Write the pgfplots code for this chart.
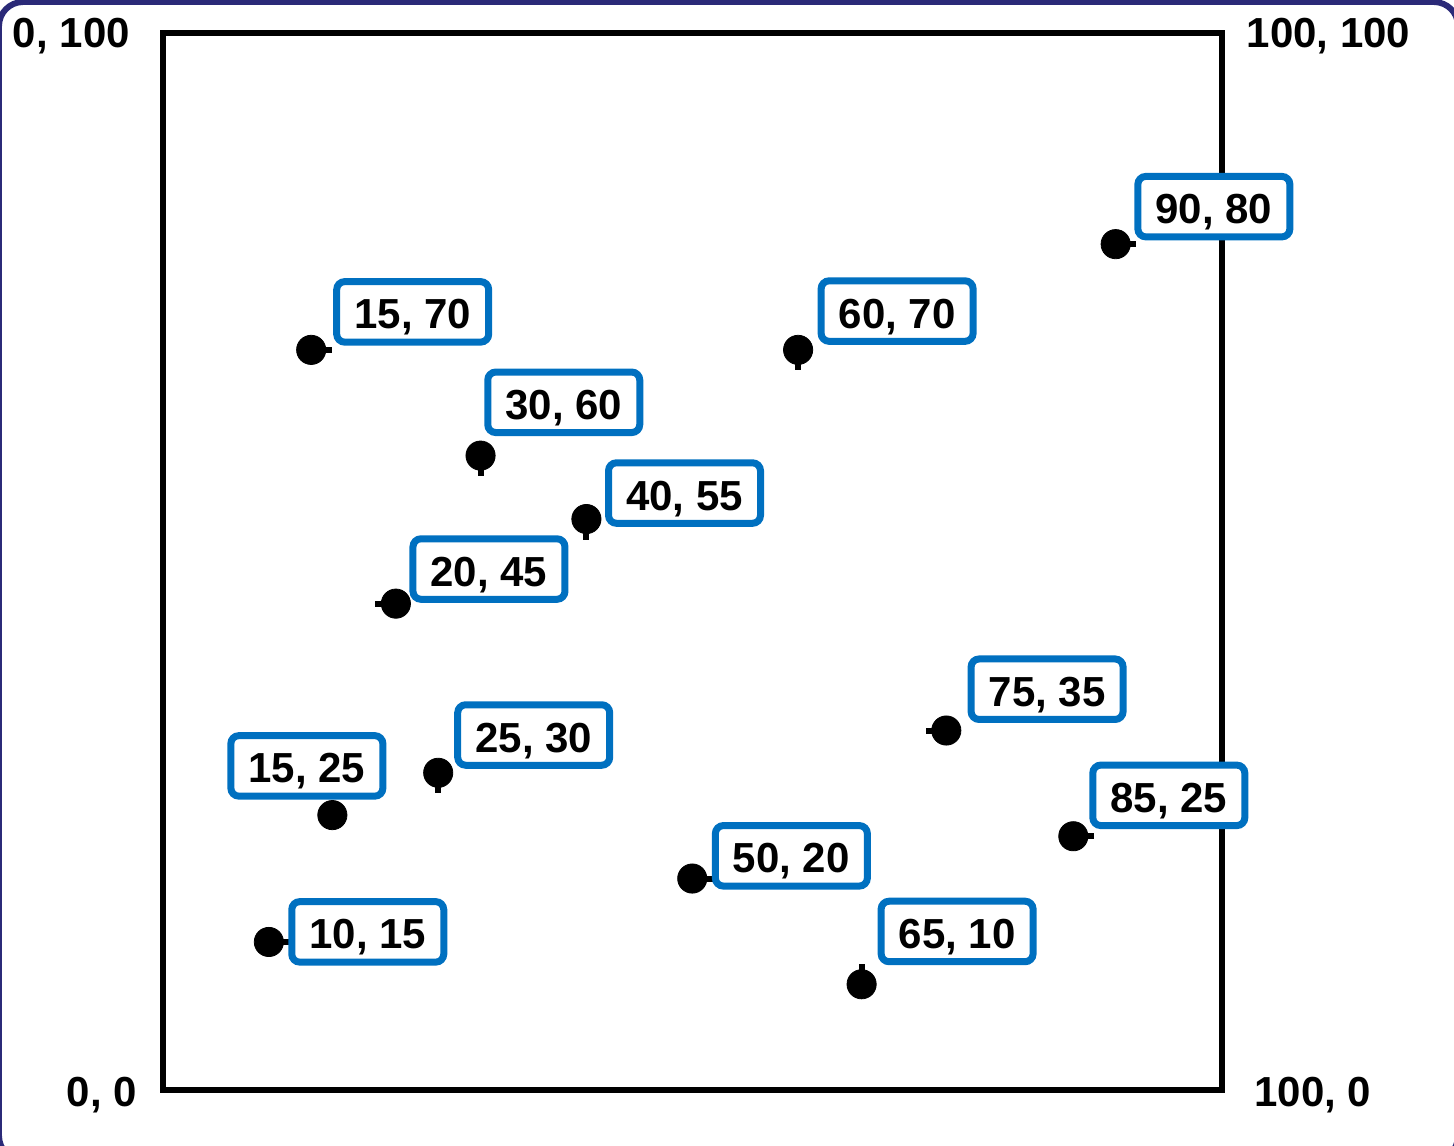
\documentclass[border=0pt]{standalone}
\usepackage{fontspec}
\setmainfont{Liberation Sans}
\usepackage{pgfplots}
\pgfplotsset{compat=1.18}
\usepackage{pgfplotstable}
\pgfkeys{/pgf/number format/assume math mode=true}
\definecolor{boxblue}{RGB}{0,112,192}
\definecolor{framenavy}{RGB}{43,42,120}

\pgfplotstableread{
x y lx ly dx dy exp exm eyp eym
10 14 10 15 49.45 5.05 1.94 0 0 0
16 26 15 25 -12.75 24.6 0 0 0 0
26 30 25 30 47.75 18.9 0 0 0 1.94
14 70 15 70 50.75 19 1.94 0 0 0
30 60 30 60 41.6 26.65 0 0 0 1.94
40 54 40 55 49.05 13 0 0 0 1.94
22 46 20 45 46.55 17.3 0 1.94 0 0
60 70 60 70 49.5 19.4 0 0 0 1.94
90 80 90 80 49.1 18.75 1.94 0 0 0
74 34 75 35 50.4 20.65 0 1.94 0 0
86 24 85 25 47.75 20.45 1.94 0 0 0
50 20 50 20 49.55 11.35 1.94 0 0 0
66 10 65 10 47.75 26.4 0 0 1.94 0
}\pts

\newcommand{\lblfont}{\bfseries\fontsize{21}{25}\selectfont}

\begin{document}
\begin{tikzpicture}
\begin{axis}[
  at={(0pt,0pt)}, anchor=south west,
  scale only axis, width=529.25pt, height=528.65pt,
  xmin=0, xmax=100, ymin=0, ymax=100,
  ticks=none,
  axis line style={line width=3pt, line cap=rect, black},
  clip=false,
  set layers,
]
\addplot[black, only marks, mark=*, mark size=7.3pt,
  error bars/x dir=both, error bars/x explicit,
  error bars/y dir=both, error bars/y explicit,
  error bars/error mark=none,
  error bars/error bar style={line width=3pt, black},
  visualization depends on={\thisrow{lx} \as \lx},
  visualization depends on={\thisrow{ly} \as \ly},
  visualization depends on={\thisrow{dx} \as \dx},
  visualization depends on={\thisrow{dy} \as \dy},
  nodes near coords={\pgfmathprintnumber[fixed,precision=0,assume math mode=true]{\lx}, \pgfmathprintnumber[fixed,precision=0,assume math mode=true]{\ly}},
  every node near coord/.append style={anchor=center, xshift=\dx pt, yshift=\dy pt,
    draw=boxblue, line width=3.5pt, fill=white, rounded corners=4pt,
    minimum width=76pt, minimum height=30.25pt, inner sep=0pt,
    text height=17pt, text depth=0pt, font=\lblfont, text=black},
] table[x=x, y=y, x error plus=exp, x error minus=exm, y error plus=eyp, y error minus=eym] {\pts};
\end{axis}
\node[anchor=base west, inner sep=0pt, font=\lblfont] at (-75.2pt,521.3pt) {0, 100};
\node[anchor=base west, inner sep=0pt, font=\lblfont] at (541.75pt,521.3pt) {100, 100};
\node[anchor=base west, inner sep=0pt, font=\lblfont] at (-48.3pt,-8.4pt) {0, 0};
\node[anchor=base west, inner sep=0pt, font=\lblfont] at (545.6pt,-8.4pt) {100, 0};
\draw[framenavy, line width=3pt, rounded corners=12pt] (-82pt,-35pt) rectangle (647.5pt,544pt);
\pgfresetboundingbox
\path[use as bounding box] (-81.5pt,-27.5pt) rectangle (645.5pt,545pt);
\end{tikzpicture}
\end{document}
